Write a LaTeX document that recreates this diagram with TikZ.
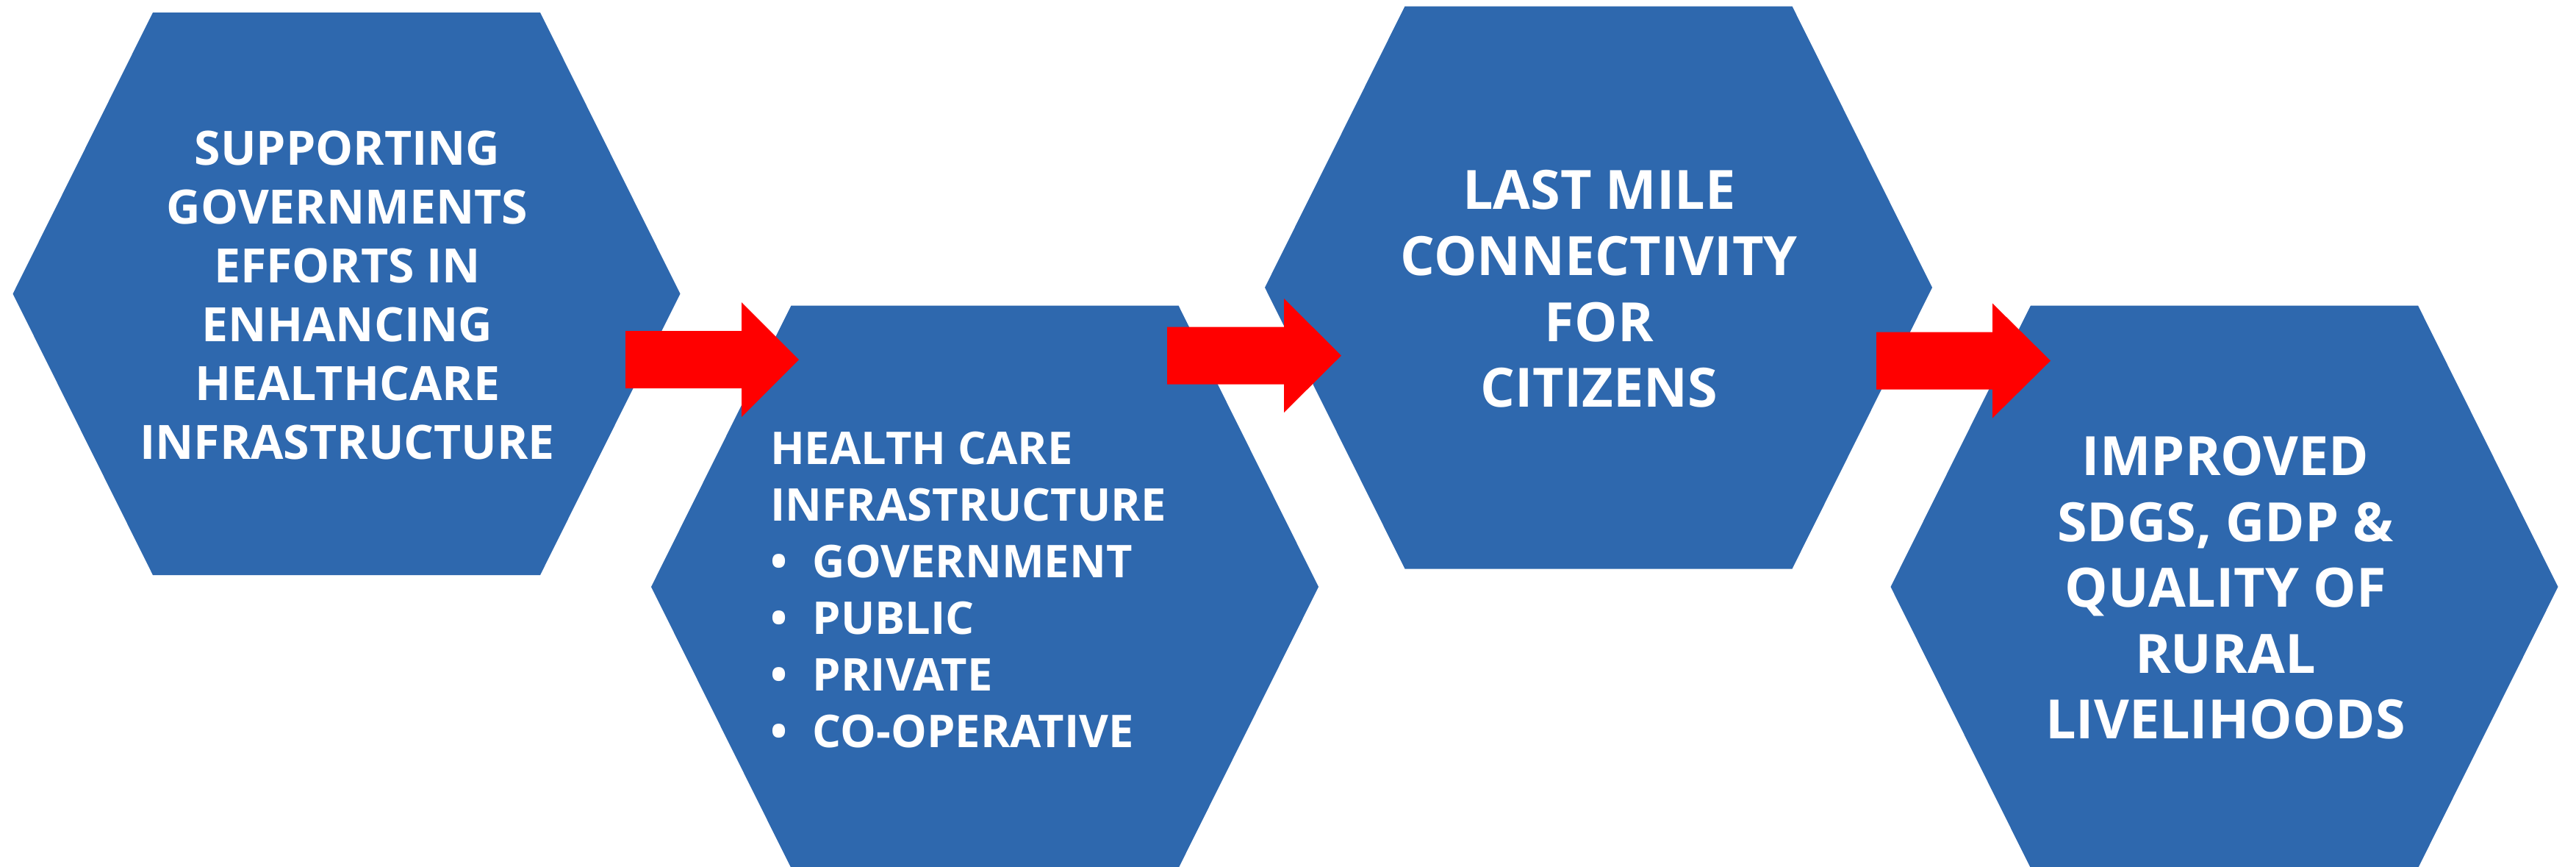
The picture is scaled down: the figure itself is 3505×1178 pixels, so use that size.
\documentclass[tikz,border=0pt]{standalone}
\usepackage{fontspec}
\setmainfont{Open Sans}
\definecolor{hexblue}{RGB}{46,104,174}
\tikzset{
  hexfill/.style={fill=hexblue, draw=none},
  arrowfill/.style={fill=red, draw=none},
  hextext/.style={text=white, font=\bfseries, inner sep=0pt},
}
% hexagon: centre (cx,cy), outer half width 454, inner half width 263.5, half height 382.5
\newcommand\hexagonat[2]{%
  \fill[hexfill] (#1,#2) ++(-454,0) -- ++(190.5,-382.5) -- ++(527,0)
    -- ++(190.5,382.5) -- ++(-190.5,382.5) -- ++(-527,0) -- cycle;}
\begin{document}
\begin{tikzpicture}[x=0.2pt, y=-0.2pt]
\useasboundingbox (0,0) rectangle (3505,1178);
\hexagonat{471.5}{399.5}
\hexagonat{1340}{798}
\hexagonat{2175}{391}
\hexagonat{3026.5}{798}
\fill[arrowfill] (851,450) -- (1009,450) -- (1009,411) -- (1087,489) -- (1009,567) -- (1009,528) -- (851,528) -- cycle;
\fill[arrowfill] (1588,444.5) -- (1747,444.5) -- (1747,406) -- (1825,483.5) -- (1747,561) -- (1747,522.5) -- (1588,522.5) -- cycle;
\fill[arrowfill] (2553,451.5) -- (2711,451.5) -- (2711,412.5) -- (2790,490.5) -- (2711,568.5) -- (2711,529.5) -- (2553,529.5) -- cycle;

\node[hextext, align=center, font=\bfseries\fontsize{12.86}{16}\selectfont] (t1) at (472.6,401.5)
  {SUPPORTING\\GOVERNMENTS\\EFFORTS IN\\ENHANCING\\HEALTHCARE\\INFRASTRUCTURE};
\node[hextext, align=left, anchor=north west, font=\bfseries\fontsize{12.27}{15.4}\selectfont] (t2) at (1047,586)
  {HEALTH CARE\\INFRASTRUCTURE\\
   \makebox[11.56pt][l]{•}GOVERNMENT\\
   \makebox[11.56pt][l]{•}PUBLIC\\
   \makebox[11.56pt][l]{•}PRIVATE\\
   \makebox[11.56pt][l]{•}CO-OPERATIVE};
\node[hextext, align=center, font=\bfseries\fontsize{14.73}{17.92}\selectfont] (t3) at (2175.8,393)
  {LAST MILE\\CONNECTIVITY\\FOR\\CITIZENS};
\node[hextext, align=center, font=\bfseries\fontsize{14.73}{17.92}\selectfont] (t4) at (3028,799.3)
  {IMPROVED\\SDGS, GDP \&\\QUALITY OF\\RURAL\\LIVELIHOODS};
\end{tikzpicture}
\end{document}
